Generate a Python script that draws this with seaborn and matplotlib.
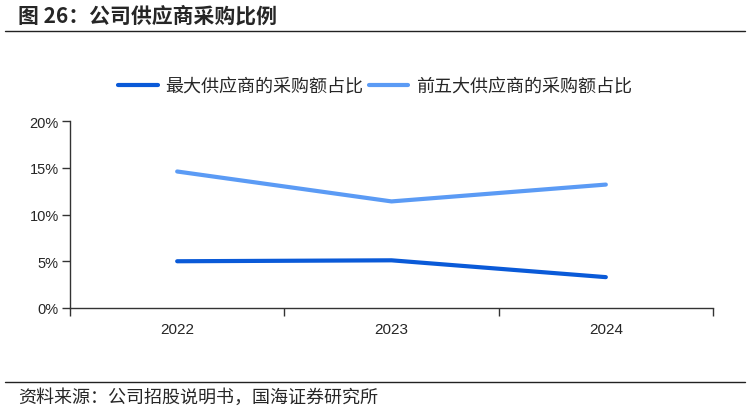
import matplotlib
matplotlib.use("Agg")
import matplotlib.pyplot as plt
import matplotlib.ticker as mticker
from matplotlib.lines import Line2D
import seaborn as sns
import pandas as pd

years = ["2022", "2023", "2024"]
series_names = ["最大供应商的采购额占比", "前五大供应商的采购额占比"]
top1 = [0.050, 0.051, 0.033]
top5 = [0.146, 0.114, 0.132]
colors = ["#0A5AD8", "#5B9BF5"]
yticks = [0, 0.05, 0.10, 0.15, 0.20]

sns.set_style("white")
plt.rcParams['font.family'] = ['Liberation Sans', 'Noto Sans CJK SC', 'DejaVu Sans']
cjk = ['Noto Sans CJK SC', 'DejaVu Sans']

df = pd.DataFrame({
    "year": years * 2,
    "x": list(range(len(years))) * 2,
    "value": top1 + top5,
    "series": [series_names[0]] * 3 + [series_names[1]] * 3,
})

fig = plt.figure(figsize=(7.5, 4.14), dpi=100)
ax = fig.add_axes([70/750, 1 - 309/414, (713-70)/750, (309-122)/414])

sns.lineplot(data=df, x="x", y="value", hue="series", palette=colors,
             linewidth=3, ax=ax, legend=False, solid_capstyle="round")

ax.set_xlim(-0.5, 2.5)
ax.set_ylim(0, 0.20)
ax.set_xticks(range(len(years)))
ax.set_xticklabels(years, fontsize=11)
ax.set_xticks([-0.5, 0.5, 1.5, 2.5], minor=True)
ax.tick_params(axis='x', which='major', length=0, pad=10, bottom=True)
ax.tick_params(axis='x', which='minor', length=6, width=1, color='#333333',
               direction='out', bottom=True)
ax.set_yticks(yticks)
ax.yaxis.set_major_formatter(mticker.FuncFormatter(lambda v, p: f"{v*100:.0f}%"))
ax.tick_params(axis='y', length=6, width=1, color='#333333', direction='out',
               labelsize=10.5, pad=2, left=True)
ax.set_xlabel("")
ax.set_ylabel("")
for s in ["top", "right"]:
    ax.spines[s].set_visible(False)
for s in ["left", "bottom"]:
    ax.spines[s].set_color('#333333')
    ax.spines[s].set_linewidth(1)

handles = [Line2D([0], [0], color=c, lw=3, solid_capstyle="round") for c in colors]
fig.legend(handles, series_names, loc="center", bbox_to_anchor=(0.5, 1 - 87/414),
           ncol=2, frameon=False, prop={'family': cjk, 'size': 13},
           handlelength=2.2, columnspacing=0.3, handletextpad=0.4)

fig.text(18/750, 1 - 16/414, "图 26：公司供应商采购比例", fontsize=15, fontweight='bold',
         family=cjk, va='center', ha='left')
fig.add_artist(Line2D([5/750, 745/750], [1 - 32/414] * 2, color='#222222', lw=1))
fig.add_artist(Line2D([5/750, 745/750], [1 - 383/414] * 2, color='#222222', lw=1))
fig.text(18/750, 1 - 398/414, "资料来源：公司招股说明书，国海证券研究所", fontsize=13,
         family=cjk, va='center', ha='left')

fig.savefig("out.png", dpi=100)
